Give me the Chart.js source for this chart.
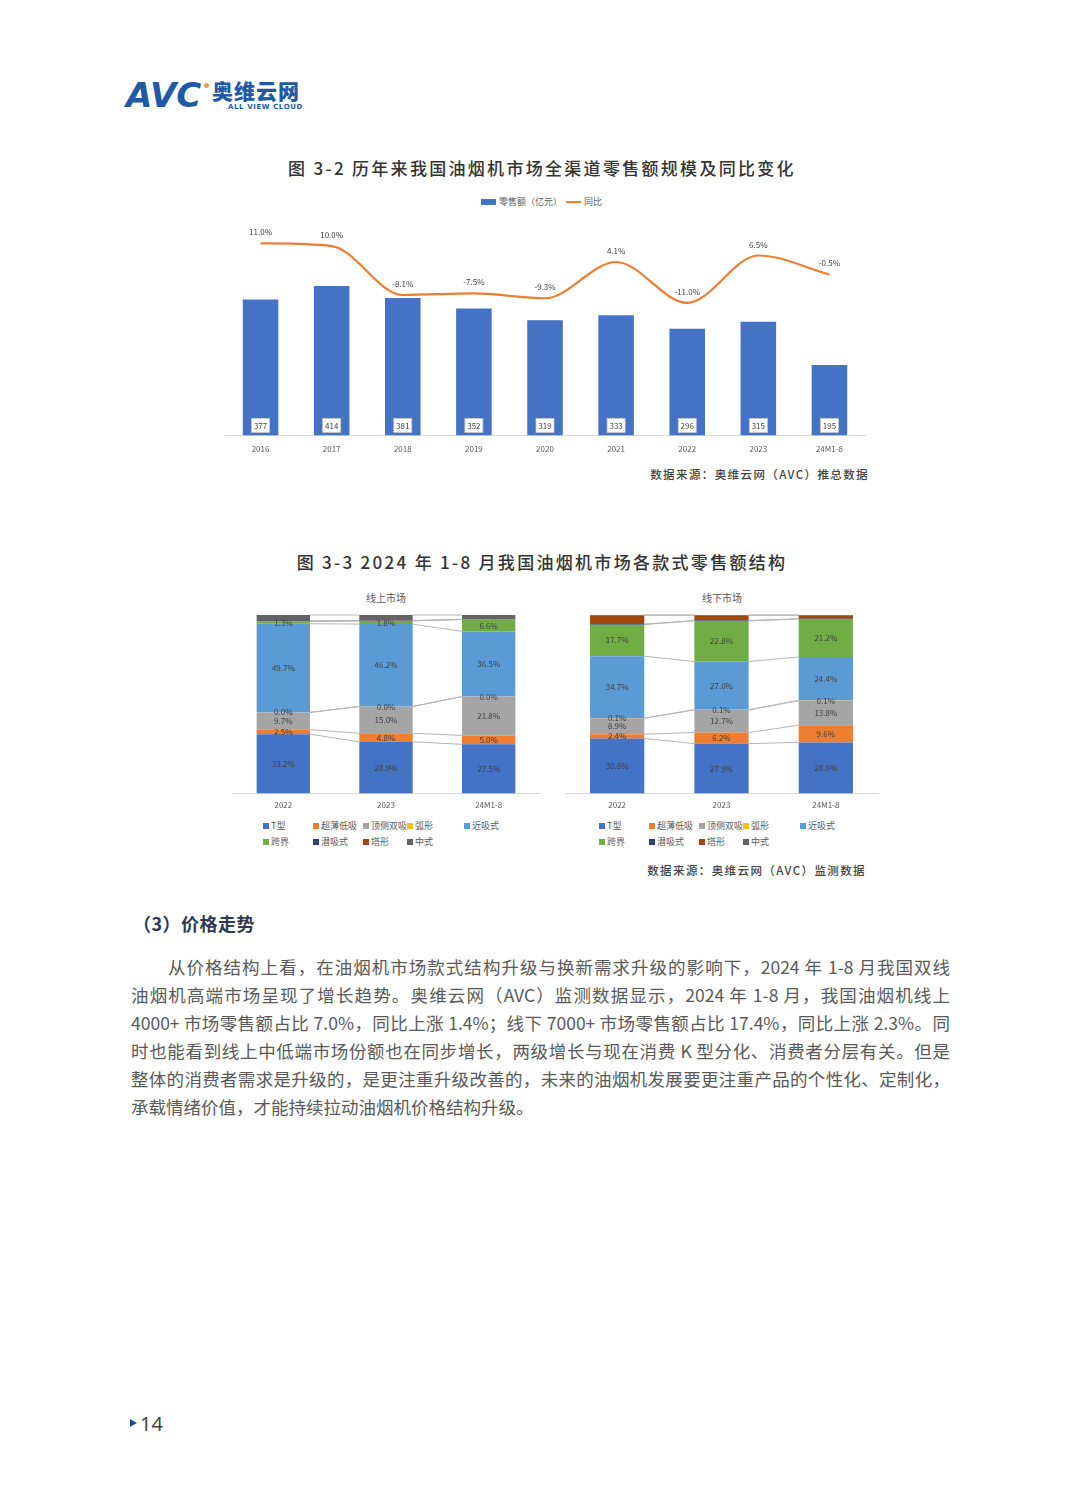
<!DOCTYPE html>
<html>
<head>
<meta charset="utf-8">
<script src="https://cdn.jsdelivr.net/npm/chart.js@4.4.1/dist/chart.umd.min.js"></script>
<style>
  body { margin: 0; background: #fff; font-family: "Noto Sans CJK SC", "Noto Sans", sans-serif; }
  #page { position: relative; width: 1080px; height: 1504px; overflow: hidden; background: #fff; }
  .abs { position: absolute; white-space: nowrap; }
  .fig-title { font-size: 17px; color: #333; letter-spacing: 2.3px; font-weight: 500; transform: translateX(-50%); }
  .source { font-size: 11.5px; color: #444; letter-spacing: 1.4px; font-weight: 500; text-align: right; }
  .sub-title { font-size: 10px; color: #595959; transform: translateX(-50%); }
  .legend { font-size: 9px; color: #595959; display: grid; grid-template-columns: 50px 50px 44px 57px 50px; row-gap: 3px; }
  .legend span i { display: inline-block; width: 6px; height: 6px; margin-right: 2px; vertical-align: 0px; }
  .para { left: 131px; width: 819px; font-size: 17.5px; color: #595959; }
  .para div { height: 28px; line-height: 28px; text-align: justify; text-align-last: justify; white-space: nowrap; }
  .para div.last { text-align-last: left; }
</style>
</head>
<body>
<div id="page">
  <!-- header logo -->
  <div class="abs" style="left:126px;top:78px;line-height:1;font-family:'DejaVu Sans';font-weight:bold;font-style:italic;font-size:34px;color:#1f5aa6;letter-spacing:0px;">AVC</div>
  <div class="abs" style="left:204px;top:83px;width:5px;height:5px;border-radius:50%;background:#f0a040;"></div>
  <div class="abs" style="left:212px;top:80px;line-height:1;font-size:21px;font-weight:900;color:#1f5aa6;letter-spacing:1px;">奥维云网</div>
  <div class="abs" style="left:228px;top:104px;line-height:1;font-size:7px;font-weight:bold;color:#1f5aa6;letter-spacing:0.6px;font-family:'DejaVu Sans';">ALL VIEW CLOUD</div>

  <!-- figure 3-2 -->
  <div class="abs fig-title" style="left:542px;top:155px;">图 3-2 历年来我国油烟机市场全渠道零售额规模及同比变化</div>
  <div class="abs" id="legend1" style="left:481px;top:195px;font-size:9px;color:#595959;"></div>
  <div class="abs" style="left:200px;top:209px;width:690px;height:254px;"><canvas id="salesChart"></canvas></div>
  <div class="abs source" style="right:211px;top:466px;">数据来源：奥维云网（AVC）推总数据</div>

  <!-- figure 3-3 -->
  <div class="abs fig-title" style="left:542px;top:549px;">图 3-3 2024 年 1-8 月我国油烟机市场各款式零售额结构</div>
  <div class="abs sub-title" style="left:386px;top:590px;">线上市场</div>
  <div class="abs sub-title" style="left:722px;top:590px;">线下市场</div>
  <div class="abs" style="left:222px;top:605px;width:328px;height:212px;"><canvas id="onlineChart"></canvas></div>
  <div class="abs" style="left:555px;top:605px;width:333px;height:212px;"><canvas id="offlineChart"></canvas></div>
  <div class="abs legend" id="legendOnline" style="left:263px;top:819px;"></div>
  <div class="abs legend" id="legendOffline" style="left:599px;top:819px;"></div>
  <div class="abs source" style="right:214px;top:862px;">数据来源：奥维云网（AVC）监测数据</div>

  <!-- text -->
  <div class="abs" style="left:133px;top:910px;font-size:18px;font-weight:bold;color:#2b3a55;letter-spacing:0.5px;">（3）价格走势</div>
  <div class="abs para" style="top:953px;">
    <div style="padding-left:37px;">从价格结构上看，在油烟机市场款式结构升级与换新需求升级的影响下，2024 年 1-8 月我国双线</div>
    <div>油烟机高端市场呈现了增长趋势。奥维云网（AVC）监测数据显示，2024 年 1-8 月，我国油烟机线上</div>
    <div>4000+ 市场零售额占比 7.0%，同比上涨 1.4%；线下 7000+ 市场零售额占比 17.4%，同比上涨 2.3%。同</div>
    <div>时也能看到线上中低端市场份额也在同步增长，两级增长与现在消费 K 型分化、消费者分层有关。但是</div>
    <div>整体的消费者需求是升级的，是更注重升级改善的，未来的油烟机发展要更注重产品的个性化、定制化，</div>
    <div class="last">承载情绪价值，才能持续拉动油烟机价格结构升级。</div>
  </div>

  <!-- page number -->
  <div class="abs" style="left:130px;top:1419px;width:0;height:0;border-top:4px solid transparent;border-bottom:4px solid transparent;border-left:7px solid #1f4e8c;"></div>
  <div class="abs" style="left:140px;top:1410px;font-size:20px;color:#444;font-family:'Noto Sans';">14</div>
</div>

<script>
// figure 3-2: retail sales (100 million yuan) and YoY change
const years = ['2016', '2017', '2018', '2019', '2020', '2021', '2022', '2023', '24M1-8'];
const retailSales = [377, 414, 381, 352, 319, 333, 296, 315, 195];
const yoyGrowth = [11.0, 10.0, -8.1, -7.5, -9.3, 4.1, -11.0, 6.5, -0.5];

// figure 3-3: share by hood style (%), one array per period
const periods = ['2022', '2023', '24M1-8'];
const styleNames = ['T型', '超薄低吸', '顶侧双吸', '弧形', '近吸式', '跨界', '潜吸式', '塔形', '中式'];
const online2022 = [33.2, 2.5, 9.7, 0.0, 49.7, 1.3, 0.2, 0.1, 3.3];
const online2023 = [28.9, 4.8, 15.0, 0.0, 46.2, 1.8, 0.1, 0.1, 3.1];
const online2024 = [27.5, 5.0, 21.8, 0.0, 36.5, 6.6, 0.1, 0.1, 2.4];
const offline2022 = [30.8, 2.4, 8.9, 0.1, 34.7, 17.7, 0.3, 5.0, 0.1];
const offline2023 = [27.9, 6.2, 12.7, 0.1, 27.0, 22.8, 0.2, 3.0, 0.1];
const offline2024 = [28.6, 9.6, 13.8, 0.1, 24.4, 21.2, 0.2, 2.0, 0.1];

const styleColors = ['#4472c4', '#ed7d31', '#a5a5a5', '#ffc000', '#5b9bd5', '#70ad47', '#264478', '#9e480e', '#636363'];
const labelledStyles = 6; // only the first six styles carry value labels

const FONT = '"Noto Sans CJK SC", "Noto Sans", sans-serif';
Chart.defaults.font.family = FONT;
Chart.defaults.color = '#595959';
Chart.defaults.animation = false;

// html legend for figure 3-2
document.getElementById('legend1').innerHTML =
  '<span style="display:inline-block;width:15px;height:6px;background:#4472c4;margin-right:3px;"></span>零售额（亿元）' +
  '<span style="display:inline-block;width:15px;height:2px;background:#ed7d31;margin:0 3px 2px 4px;vertical-align:middle;"></span>同比';

// value boxes at the foot of each bar, and labels above the line
const salesLabels = {
  id: 'salesLabels',
  afterDatasetsDraw(chart) {
    const ctx = chart.ctx;
    ctx.save();
    ctx.font = '8px ' + FONT;
    ctx.textAlign = 'center';
    ctx.textBaseline = 'middle';
    chart.getDatasetMeta(0).data.forEach((bar, i) => {
      const cy = bar.base - 10;
      ctx.fillStyle = '#fff';
      ctx.fillRect(bar.x - 9, cy - 7, 18, 14);
      ctx.strokeStyle = '#c8c8c8';
      ctx.lineWidth = 0.8;
      ctx.strokeRect(bar.x - 9, cy - 7, 18, 14);
      ctx.fillStyle = '#404040';
      ctx.fillText(retailSales[i], bar.x, cy + 0.5);
    });
    chart.getDatasetMeta(1).data.forEach((pt, i) => {
      ctx.fillStyle = '#404040';
      ctx.fillText(yoyGrowth[i].toFixed(1) + '%', pt.x, pt.y - 11);
    });
    ctx.restore();
  }
};

new Chart(document.getElementById('salesChart'), {
  data: {
    labels: years,
    datasets: [
      {
        type: 'bar',
        label: '零售额（亿元）',
        data: retailSales,
        backgroundColor: '#4472c4',
        yAxisID: 'y',
        barPercentage: 0.5,
        categoryPercentage: 1,
        order: 2
      },
      {
        type: 'line',
        label: '同比',
        data: yoyGrowth,
        borderColor: '#ed7d31',
        borderWidth: 2.2,
        pointRadius: 0,
        tension: 0.4,
        cubicInterpolationMode: 'monotone',
        yAxisID: 'y2',
        order: 1
      }
    ]
  },
  options: {
    responsive: true,
    maintainAspectRatio: false,
    layout: { padding: { left: 25, right: 25, top: 10, bottom: 0 } },
    plugins: { legend: { display: false }, tooltip: { enabled: false } },
    scales: {
      x: {
        grid: { display: false, drawTicks: false },
        border: { color: '#d9d9d9' },
        ticks: { font: { size: 8 }, color: '#595959', padding: 9 }
      },
      y: { display: false, min: 0, max: 600 },
      y2: { display: false, min: -60, max: 20 }
    }
  },
  plugins: [salesLabels]
});

// connecting series lines and percentage labels for the stacked bars
const stackedExtras = {
  id: 'stackedExtras',
  beforeDatasetsDraw(chart) {
    const ctx = chart.ctx;
    ctx.save();
    ctx.strokeStyle = '#b4b4b4';
    ctx.lineWidth = 1;
    chart.data.datasets.forEach((ds, d) => {
      const bars = chart.getDatasetMeta(d).data;
      for (let j = 0; j < bars.length - 1; j++) {
        const a = bars[j], b = bars[j + 1];
        ctx.beginPath();
        ctx.moveTo(a.x + a.width / 2, a.y);
        ctx.lineTo(b.x - b.width / 2, b.y);
        ctx.stroke();
      }
    });
    ctx.restore();
  },
  afterDatasetsDraw(chart) {
    const ctx = chart.ctx;
    ctx.save();
    ctx.font = '8px ' + FONT;
    ctx.textAlign = 'center';
    ctx.textBaseline = 'middle';
    ctx.fillStyle = '#404040';
    chart.data.datasets.forEach((ds, d) => {
      if (d >= labelledStyles) return;
      chart.getDatasetMeta(d).data.forEach((bar, j) => {
        ctx.fillText(ds.data[j].toFixed(1) + '%', bar.x, (bar.y + bar.base) / 2);
      });
    });
    ctx.restore();
  }
};

function shareChart(canvasId, rows) {
  return new Chart(document.getElementById(canvasId), {
    type: 'bar',
    data: {
      labels: periods,
      datasets: styleNames.map((name, s) => ({
        label: name,
        data: rows.map((r) => r[s]),
        backgroundColor: styleColors[s],
        barPercentage: 0.52,
        categoryPercentage: 1
      }))
    },
    options: {
      responsive: true,
      maintainAspectRatio: false,
      layout: { padding: { left: 10, right: 10, top: 10, bottom: 0 } },
      plugins: { legend: { display: false }, tooltip: { enabled: false } },
      scales: {
        x: {
          stacked: true,
          grid: { display: false, drawTicks: false },
          border: { color: '#d9d9d9' },
          ticks: { font: { size: 8 }, color: '#595959', padding: 7 }
        },
        y: { stacked: true, display: false, min: 0, max: 100 }
      }
    },
    plugins: [stackedExtras]
  });
}

shareChart('onlineChart', [online2022, online2023, online2024]);
shareChart('offlineChart', [offline2022, offline2023, offline2024]);

// html legends for the two structure charts
['legendOnline', 'legendOffline'].forEach((id) => {
  document.getElementById(id).innerHTML = styleNames
    .map((name, s) => `<span><i style="background:${styleColors[s]}"></i>${name}</span>`)
    .join('');
});
</script>
</body>
</html>
